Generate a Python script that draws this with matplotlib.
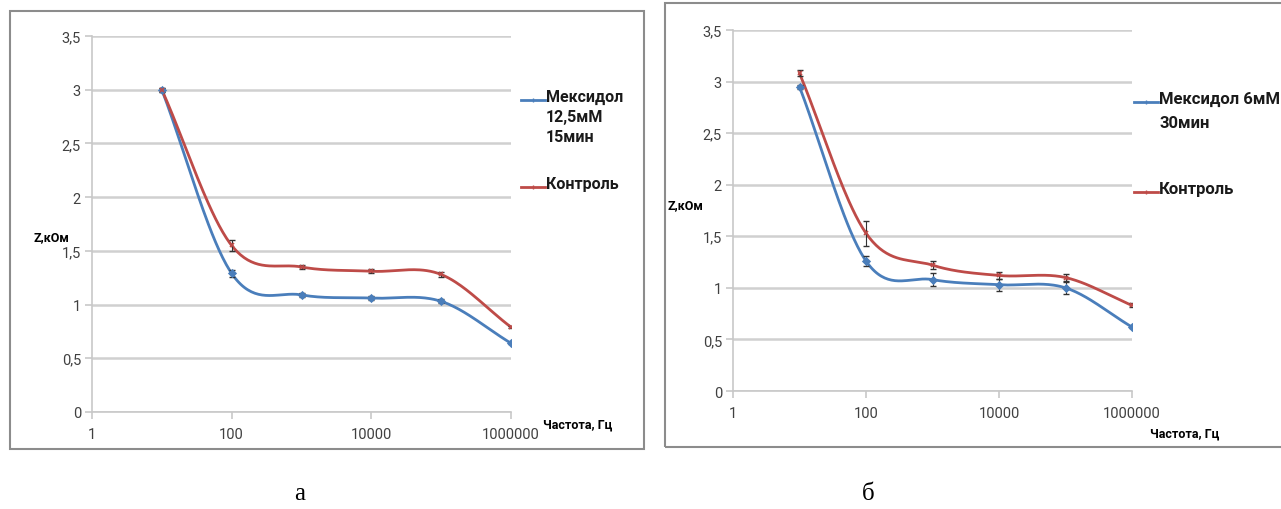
import numpy as np
import matplotlib.pyplot as plt
from matplotlib.patches import Rectangle
from matplotlib.lines import Line2D

plt.rcParams['font.family'] = ['Roboto', 'DejaVu Sans']

freq = [10, 100, 1000, 10000, 100000, 1000000]

# panel a
mex_a = [3.0, 1.29, 1.09, 1.06, 1.03, 0.64]
mex_a_err = [0.02, 0.03, 0.02, 0.02, 0.02, 0.01]
ctrl_a = [3.0, 1.55, 1.35, 1.31, 1.28, 0.79]
ctrl_a_err = [0.02, 0.05, 0.02, 0.02, 0.02, 0.01]

# panel b
mex_b = [2.95, 1.26, 1.08, 1.03, 1.00, 0.62]
mex_b_err = [0.02, 0.05, 0.06, 0.06, 0.06, 0.01]
ctrl_b = [3.08, 1.53, 1.22, 1.12, 1.10, 0.83]
ctrl_b_err = [0.03, 0.12, 0.04, 0.03, 0.03, 0.02]

yticks = [0, 0.5, 1, 1.5, 2, 2.5, 3, 3.5]
ytick_labels = ['0', '0,5', '1', '1,5', '2', '2,5', '3', '3,5']
xticks = [1, 100, 10000, 1000000]
xtick_labels = ['1', '100', '10000', '1000000']

BLUE = '#4a7ebb'
RED = '#be4b48'
W, H = 1281, 510


def smooth(x, y, n=40):
    # catmull-rom through the points in log-x space, like excel smoothed lines
    lx = np.log10(x)
    y = np.asarray(y, float)
    px = np.concatenate([[2 * lx[0] - lx[1]], lx, [2 * lx[-1] - lx[-2]]])
    py = np.concatenate([[2 * y[0] - y[1]], y, [2 * y[-1] - y[-2]]])
    xs, ys = [], []
    t = np.linspace(0, 1, n)
    for i in range(1, len(px) - 2):
        for arr, out in ((px, xs), (py, ys)):
            p0, p1, p2, p3 = arr[i - 1], arr[i], arr[i + 1], arr[i + 2]
            out.append(0.5 * (2 * p1 + (-p0 + p2) * t
                              + (2 * p0 - 5 * p1 + 4 * p2 - p3) * t ** 2
                              + (-p0 + 3 * p1 - 3 * p2 + p3) * t ** 3))
    return 10 ** np.concatenate(xs), np.concatenate(ys)


def panel(ax, mex, mex_err, ctrl, ctrl_err):
    for vals, err, col, mk in ((mex, mex_err, BLUE, 'D'),
                               (ctrl, ctrl_err, RED, 'x')):
        sx, sy = smooth(freq, vals)
        ax.plot(sx, sy, color=col, lw=2, zorder=3)
        ax.errorbar(freq, vals, yerr=err, fmt='none', ecolor='#333333',
                    elinewidth=0.8, capsize=2.5, zorder=4)
        ax.plot(freq, vals, ls='none', marker=mk, ms=3.5, color=col,
                mew=1.2, zorder=5)
    ax.set_xscale('log')
    ax.set_xlim(1, 1000000)
    ax.set_ylim(0, 3.5)
    ax.set_yticks(yticks)
    ax.set_yticklabels(ytick_labels)
    ax.set_xticks(xticks)
    ax.set_xticklabels(xtick_labels)
    ax.xaxis.set_minor_locator(plt.NullLocator())
    ax.grid(axis='y', color='#d0d0d0', lw=1.8)
    ax.set_axisbelow(True)
    for s in ('top', 'right'):
        ax.spines[s].set_visible(False)
    for s in ('left', 'bottom'):
        ax.spines[s].set_color('#c8c8c8')
        ax.spines[s].set_linewidth(1.2)
    ax.tick_params(axis='both', colors='#c8c8c8', labelcolor='#404040',
                   labelsize=10.5, length=5, width=1.2)
    ax.tick_params(axis='y', pad=3)
    ax.tick_params(axis='x', pad=6)


def legend_entry(x, y, label, col, mk, size, spacing):
    # x, y: pixel position of the line sample's left end (from the top)
    fig.add_artist(Line2D([x / W, (x + 24) / W], [1 - y / H, 1 - y / H],
                          transform=fig.transFigure, color=col, lw=2))
    fig.add_artist(Line2D([(x + 12) / W], [1 - y / H], transform=fig.transFigure,
                          color=col, marker=mk, ms=3, mew=1))
    fig.text((x + 25) / W, 1 - (y - 11) / H, label, fontsize=size,
             fontweight='bold', va='top', ha='left', linespacing=spacing,
             color='#1a1a1a')


fig = plt.figure(figsize=(12.81, 5.10), dpi=100)

# frames around each chart
fig.patches.append(Rectangle((10 / W, 1 - 450 / H), 634 / W, 438 / H,
                             transform=fig.transFigure, fill=False,
                             ec='#8c8c8c', lw=1.5))
fig.patches.append(Rectangle((665 / W, 1 - 448 / H), 620 / W, 444 / H,
                             transform=fig.transFigure, fill=False,
                             ec='#8c8c8c', lw=1.5))

ax1 = fig.add_axes([92 / W, 1 - 413 / H, 419 / W, 376 / H])
panel(ax1, mex_a, mex_a_err, ctrl_a, ctrl_a_err)
legend_entry(521, 101, 'Мексидол\n12,5мМ\n15мин', BLUE, '|', 11.5, 1.4)
legend_entry(521, 188, 'Контроль', RED, '|', 11.5, 1.4)
fig.text(33 / W, 1 - 238 / H, 'Z,кОм', fontsize=9, fontweight='bold',
         va='center', ha='left')
fig.text(543 / W, 1 - 425 / H, 'Частота, Гц', fontsize=9,
         fontweight='bold', va='center', ha='left')

ax2 = fig.add_axes([733 / W, 1 - 392 / H, 399 / W, 361 / H])
panel(ax2, mex_b, mex_b_err, ctrl_b, ctrl_b_err)
legend_entry(1134, 103, 'Мексидол 6мМ\n30мин', BLUE, '|', 12, 1.75)
legend_entry(1134, 193, 'Контроль', RED, '|', 12, 1.75)
fig.text(668 / W, 1 - 206 / H, 'Z,кОм', fontsize=9, fontweight='bold',
         va='center', ha='left')
fig.text(1150 / W, 1 - 434 / H, 'Частота, Гц', fontsize=9,
         fontweight='bold', va='center', ha='left')

fig.text(300 / W, 1 - 494 / H, 'а', fontsize=18, family='Liberation Serif',
         ha='center', va='center')
fig.text(868 / W, 1 - 494 / H, 'б', fontsize=18, family='Liberation Serif',
         ha='center', va='center')

fig.savefig('out.png', dpi=100)
